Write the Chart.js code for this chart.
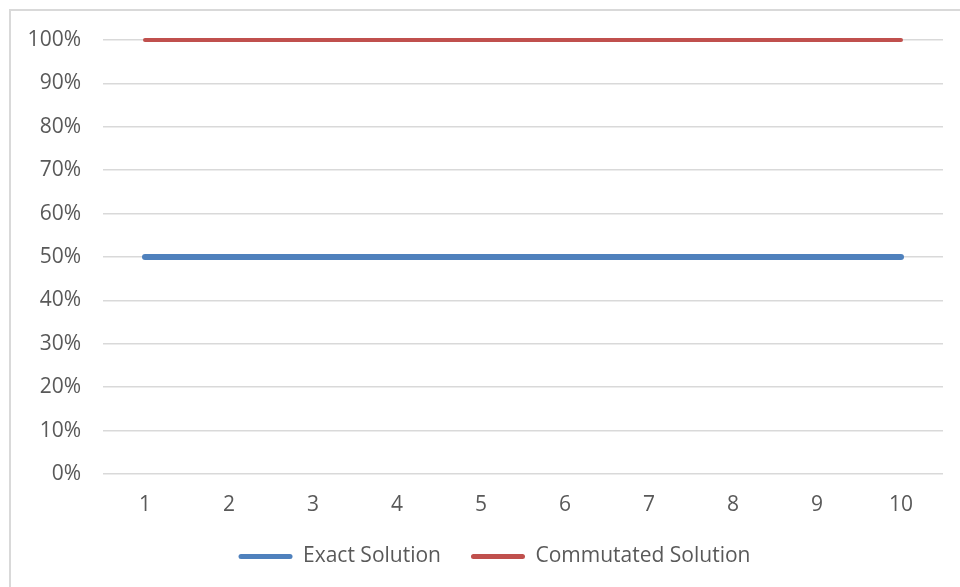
<!DOCTYPE html>
<html>
<head>
<meta charset="utf-8">
<script src="https://cdn.jsdelivr.net/npm/chart.js@4.4.1/dist/chart.umd.min.js"></script>
<style>
  html, body { margin: 0; padding: 0; background: #ffffff; overflow: hidden; }
  #wrap { position: relative; width: 960px; height: 587px; }
  #frame { position: absolute; left: 9px; top: 9px; width: 1000px; height: 1000px;
           border: 2px solid #d9d9d9; box-sizing: border-box; }
  canvas { position: absolute; left: 0; top: 0; }
</style>
</head>
<body>
<div id="wrap">
  <div id="frame"></div>
  <canvas id="chart" width="960" height="587"></canvas>
</div>
<script>
// Iteration numbers along the x axis
const categories = ['1', '2', '3', '4', '5', '6', '7', '8', '9', '10'];
// Share of correct results (fraction of 1)
const exactSolution = [0.5, 0.5, 0.5, 0.5, 0.5, 0.5, 0.5, 0.5, 0.5, 0.5];
const commutatedSolution = [1, 1, 1, 1, 1, 1, 1, 1, 1, 1];
const seriesNames = ['Exact Solution', 'Commutated Solution'];

const FONT = "'Open Sans', 'Liberation Sans', sans-serif";
const TEXT = '#595959';
const GRID = '#d9d9d9';

// Nudge the legend row to the right so it sits under the plot area
const legendShift = {
  id: 'legendShift',
  afterLayout(chart) {
    const lg = chart.legend;
    if (lg) { lg.left += 23; lg.right += 23; }
  }
};

new Chart(document.getElementById('chart'), {
  type: 'line',
  data: {
    labels: categories,
    datasets: [
      {
        label: seriesNames[0],
        data: exactSolution,
        borderColor: '#4f81bd',
        backgroundColor: '#4f81bd',
        borderWidth: 6,
        borderCapStyle: 'round',
        pointRadius: 0,
        tension: 0,
        clip: 10
      },
      {
        label: seriesNames[1],
        data: commutatedSolution,
        borderColor: '#c0504d',
        backgroundColor: '#c0504d',
        borderWidth: 4,
        borderCapStyle: 'round',
        pointRadius: 0,
        tension: 0,
        clip: 10
      }
    ]
  },
  plugins: [legendShift],
  options: {
    responsive: false,
    animation: false,
    devicePixelRatio: 1,
    layout: { padding: { left: 0, right: 17, top: 40, bottom: 10 } },
    plugins: {
      tooltip: { enabled: false },
      legend: {
        position: 'bottom',
        labels: {
          color: TEXT,
          font: { family: FONT, size: 21 },
          boxWidth: 54,
          boxHeight: 5,
          useBorderRadius: true,
          borderRadius: 2.5,
          padding: 30,
          generateLabels: (chart) =>
            Chart.defaults.plugins.legend.labels.generateLabels(chart)
              .map((item) => Object.assign(item, { lineWidth: 0 }))
        }
      }
    },
    scales: {
      x: {
        offset: true,
        grid: { display: false, drawTicks: false },
        border: { display: false },
        ticks: { color: TEXT, font: { family: FONT, size: 21 }, padding: 18 },
        afterFit: (s) => { s.height = 42; }
      },
      y: {
        min: 0,
        max: 1,
        grid: { color: GRID, lineWidth: 1.5, drawTicks: false },
        border: { display: false },
        ticks: {
          stepSize: 0.1,
          color: TEXT,
          font: { family: FONT, size: 21 },
          padding: 22,
          callback: (v) => Math.round(v * 100) + '%'
        },
        afterFit: (s) => { s.width = 103; }
      }
    }
  }
});
</script>
</body>
</html>
